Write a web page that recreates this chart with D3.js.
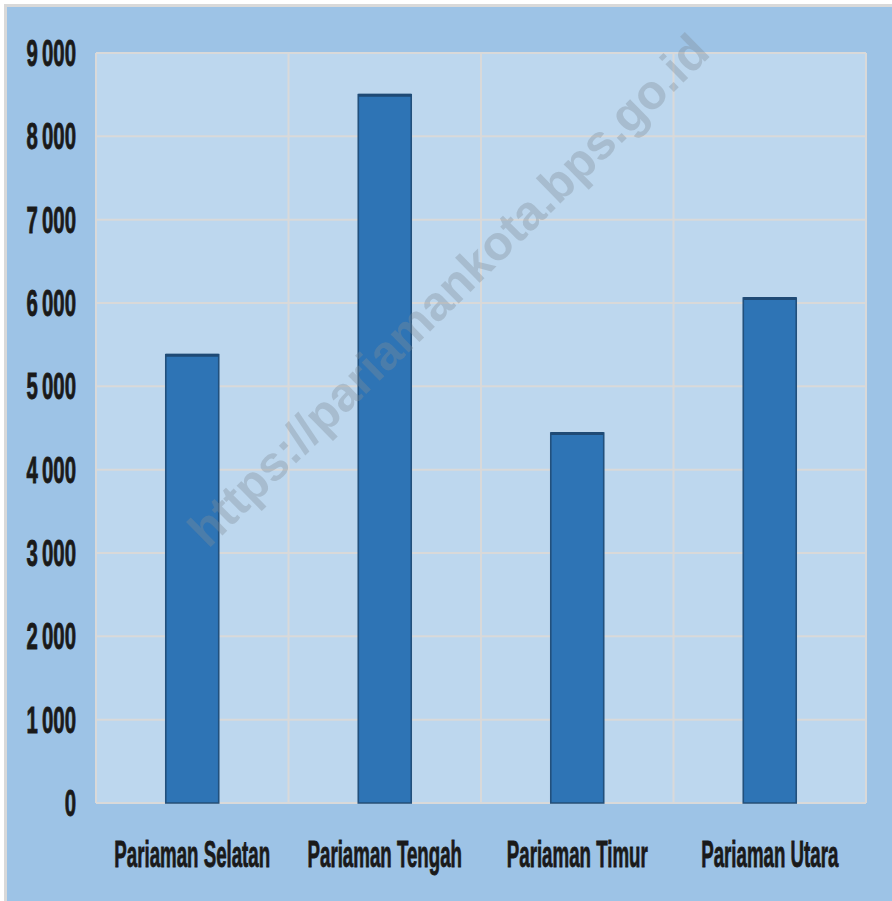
<!DOCTYPE html>
<html><head><meta charset="utf-8">
<script src="https://cdn.jsdelivr.net/npm/d3@7"></script>
<style>html,body{margin:0;padding:0;background:#fff;overflow:hidden}</style>
</head><body>
<svg id="c" width="892" height="901"></svg>
<script>
const categories = ["Pariaman Selatan", "Pariaman Tengah", "Pariaman Timur", "Pariaman Utara"];
const values = [5380, 8500, 4440, 6060];
const yTicks = [0, 1000, 2000, 3000, 4000, 5000, 6000, 7000, 8000, 9000];
const tickLabels = ["0", "1\u2009000", "2\u2009000", "3\u2009000", "4\u2009000", "5\u2009000", "6\u2009000", "7\u2009000", "8\u2009000", "9\u2009000"];
const watermark = "https://pariamankota.bps.go.id";

const svg = d3.select("#c");
const W = 892, H = 901;
const plot = {l: 96, r: 866, t: 53, b: 803};

// outer background
svg.append("rect").attr("x", 5.5).attr("y", 5.5).attr("width", W + 10).attr("height", H + 10)
  .attr("fill", "#9dc3e6").attr("stroke", "#d9d9d9").attr("stroke-width", 3);

const x = d3.scaleBand().domain(categories).range([plot.l, plot.r]).paddingInner(0.725).paddingOuter(0.3625);
const xg = d3.scaleBand().domain(categories).range([plot.l, plot.r]).padding(0);
const y = d3.scaleLinear().domain([0, 9000]).range([plot.b, plot.t]);

// plot background
svg.append("rect").attr("x", plot.l).attr("y", plot.t).attr("width", plot.r - plot.l).attr("height", plot.b - plot.t)
  .attr("fill", "#bdd7ee");

// grid
const g = svg.append("g");
g.selectAll("line.h").data(yTicks).join("line")
  .attr("x1", plot.l).attr("x2", plot.r).attr("y1", d => y(d)).attr("y2", d => y(d))
  .attr("stroke", "#d9d9d9").attr("stroke-width", 2);
const vx = categories.map(c => xg(c)).concat([plot.r]);
g.selectAll("line.v").data(vx).join("line")
  .attr("x1", d => d).attr("x2", d => d).attr("y1", plot.t).attr("y2", plot.b)
  .attr("stroke", "#d9d9d9").attr("stroke-width", 2);

// bars
svg.selectAll("rect.bar").data(values).join("rect")
  .attr("x", (d, i) => x(categories[i])).attr("width", x.bandwidth())
  .attr("y", d => y(d)).attr("height", d => y(0) - y(d))
  .attr("fill", "#2e74b5").attr("stroke", "#22507c").attr("stroke-width", 1.6);
svg.selectAll("line.top").data(values).join("line")
  .attr("x1", (d, i) => x(categories[i])).attr("x2", (d, i) => x(categories[i]) + x.bandwidth())
  .attr("y1", d => y(d) + 0.5).attr("y2", d => y(d) + 0.5)
  .attr("stroke", "#1f4a75").attr("stroke-width", 3);

// watermark (on top of bars)
svg.append("text").attr("transform", "translate(451,293) rotate(-44.5)")
  .attr("text-anchor", "middle").attr("dominant-baseline", "middle")
  .attr("font-family", "Liberation Sans, Arial, sans-serif").attr("font-weight", "bold")
  .attr("font-size", 48.5).attr("fill", "#7f8c99").attr("fill-opacity", 0.36)
  .text(watermark);

// y tick labels
const yl = svg.append("g");
yTicks.forEach((t, i) => {
  yl.append("text").attr("transform", `translate(76,${y(t) + 13}) scale(0.97,1.8)`)
    .attr("text-anchor", "end")
    .attr("font-family", "Liberation Sans, Arial, sans-serif").attr("font-weight", "bold")
    .attr("font-size", 21).attr("fill", "#1a1a1a").attr("stroke", "#1a1a1a").attr("stroke-width", 0.5)
    .text(tickLabels[i]);
});

// x labels
categories.forEach(c => {
  svg.append("text").attr("transform", `translate(${xg(c) + xg.bandwidth() / 2},866.5) scale(0.85,1.71)`)
    .attr("text-anchor", "middle")
    .attr("font-family", "Liberation Sans, Arial, sans-serif").attr("font-weight", "bold")
    .attr("font-size", 22).attr("fill", "#1a1a1a").attr("stroke", "#1a1a1a").attr("stroke-width", 0.5)
    .text(c);
});
</script>
</body></html>
